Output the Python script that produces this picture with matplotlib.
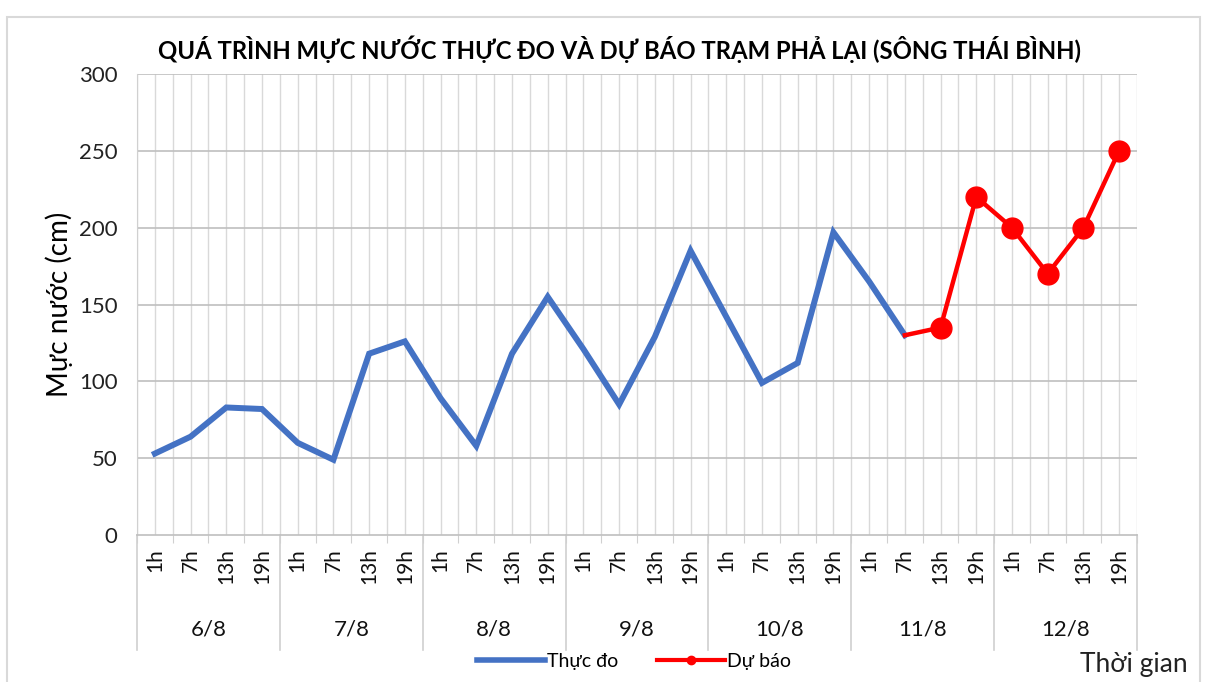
import matplotlib.pyplot as plt
import numpy as np
from matplotlib.lines import Line2D

# Dữ liệu
ngay = ['6/8', '7/8', '8/8', '9/8', '10/8', '11/8', '12/8']
gio = ['1h', '7h', '13h', '19h']
thuc_do = [53, 64, 83, 82,
           60, 49, 118, 126,
           89, 58, 118, 155,
           121, 85, 129, 185,
           142, 99, 112, 197,
           165, 130]
# dự báo bắt đầu từ 11/8 7h
du_bao_bat_dau = 21
du_bao = [130, 135, 220, 200, 170, 200, 250]

plt.rcParams['font.family'] = ['Lato', 'DejaVu Sans']

fig = plt.figure(figsize=(12.07, 6.82), dpi=100)
ax = fig.add_axes([0.1135, 0.2155, 0.8285, 0.676])

n = len(ngay) * len(gio)
x_td = np.arange(len(thuc_do))
x_db = np.arange(du_bao_bat_dau, du_bao_bat_dau + len(du_bao))

ax.plot(x_td, thuc_do, color='#4472C4', linewidth=4.3, solid_joinstyle='miter',
        label='Thực đo', zorder=3)
ax.plot(x_db, du_bao, color='#FF0000', linewidth=3.2, zorder=4)
ax.plot(x_db[1:], du_bao[1:], 'o', color='#FF0000', markersize=15, zorder=5)

ax.set_xlim(-0.5, n - 0.5)
ax.set_ylim(0, 300)
ax.set_yticks(range(0, 301, 50))
ax.tick_params(axis='y', length=0, labelsize=16, pad=14, labelcolor='#222222')

# lưới dọc ở mỗi nửa khoảng
for xv in np.arange(-0.5, n, 0.5):
    ax.axvline(xv, color='#D9D9D9', linewidth=1.0, zorder=1)
for yv in range(50, 301, 50):
    ax.axhline(yv, color='#BFBFBF', linewidth=1.2, zorder=1)

for s in ['top', 'right']:
    ax.spines[s].set_visible(False)
ax.spines['left'].set_color('#D0D0D0')
ax.spines['bottom'].set_color('#BFBFBF')
ax.spines['bottom'].set_linewidth(1.2)

# nhãn trục x hai cấp
ax.set_xticks(np.arange(-0.5, n, 1.0))
ax.set_xticklabels([])
ax.tick_params(axis='x', length=6, color='#D0D0D0')
trans = ax.get_xaxis_transform()
for i in range(n):
    ax.text(i, -0.028, gio[i % 4], rotation=90, ha='center', va='top',
            fontsize=15, color='#111111', transform=trans)
for j, d in enumerate(ngay):
    ax.text(j * 4 + 1.5, -0.205, d, ha='center', va='center', fontsize=16,
            color='#111111', transform=trans)
for j in range(len(ngay) + 1):
    ax.add_line(Line2D([j * 4 - 0.5] * 2, [0, -0.25], transform=trans,
                       color='#D0D0D0', linewidth=1.2, clip_on=False))

ax.set_ylabel('Mực nước (cm)', fontsize=20, labelpad=4)

fig.text(0.513, 0.928, 'QUÁ TRÌNH MỰC NƯỚC THỰC ĐO VÀ DỰ BÁO TRẠM PHẢ LẠI (SÔNG THÁI BÌNH)',
         ha='center', va='center', fontsize=17.2, fontweight='bold')

handles = [Line2D([], [], color='#4472C4', linewidth=4),
           Line2D([], [], color='#FF0000', linewidth=3, marker='o', markersize=6)]
fig.legend(handles, ['Thực đo', 'Dự báo'], loc='center', bbox_to_anchor=(0.525, 0.03),
           ncol=2, frameon=False, fontsize=14, handlelength=3.5, handletextpad=0.1,
           columnspacing=2.0)
fig.text(0.984, 0.025, 'Thời gian', ha='right', va='center', fontsize=19, color='#222222')

# khung ngoài
fig.add_artist(plt.Rectangle((0.006, -0.01), 0.988, 0.985, transform=fig.transFigure,
                             fill=False, edgecolor='#D9D9D9', linewidth=1.5))

fig.savefig('out.png', dpi=100)
